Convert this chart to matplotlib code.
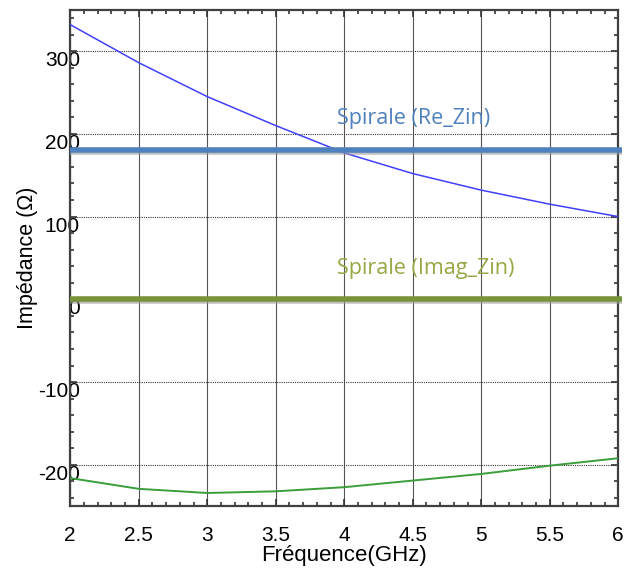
import matplotlib
matplotlib.use("Agg")
import matplotlib.pyplot as plt
import matplotlib.patheffects as pe
from matplotlib.ticker import MultipleLocator

# fréquence (GHz)
freq = [2.0, 2.5, 3.0, 3.5, 4.0, 4.5, 5.0, 5.5, 6.0]
# impédance mesurée (ohm)
re_zin = [332, 286, 245, 210, 177, 152, 132, 115, 100]
imag_zin = [-216, -229, -234, -232, -227, -219, -211, -201, -192]
# niveaux des marqueurs "Spirale"
spirale_re = 180
spirale_imag = 0

plt.rcParams['font.family'] = ['Liberation Sans', 'DejaVu Sans']
plt.rcParams['axes.unicode_minus'] = False

fig = plt.figure(figsize=(6.27, 5.72), dpi=100)
ax = fig.add_axes([0.112, 0.115, 0.874, 0.868])

ax.plot(freq, re_zin, color='#4040ff', lw=1.1, zorder=3)
ax.plot(freq, imag_zin, color='#3a9e3a', lw=1.4, zorder=3)

ombre = [pe.SimpleLineShadow(offset=(0, -1.5), shadow_color='#999999', alpha=0.6), pe.Normal()]
ax.plot([freq[0], freq[-1] + 0.03], [spirale_re, spirale_re], color='#4f81bd', lw=4,
        solid_capstyle='butt', path_effects=ombre, clip_on=False, zorder=4)
ax.plot([freq[0], freq[-1] + 0.03], [spirale_imag, spirale_imag], color='#77933c', lw=4,
        solid_capstyle='butt', path_effects=ombre, clip_on=False, zorder=4)

ax.text(3.95, 219, "Spirale (Re_Zin)", color='#4f81bd', fontsize=15.5,
        family=['Open Sans', 'DejaVu Sans'], va='center', ha='left', zorder=5)
ax.text(3.95, 37, "Spirale (Imag_Zin)", color='#94a843', fontsize=15.5,
        family=['Open Sans', 'DejaVu Sans'], va='center', ha='left', zorder=5)

ax.set_xlim(2, 6)
ax.set_ylim(-250, 350)
ax.xaxis.set_minor_locator(MultipleLocator(0.1))
ax.yaxis.set_major_locator(MultipleLocator(100))
ax.yaxis.set_minor_locator(MultipleLocator(20))
ax.set_xticks([2, 2.5, 3, 3.5, 4, 4.5, 5, 5.5, 6])
ax.set_xticklabels(['2', '2.5', '3', '3.5', '4', '4.5', '5', '5.5', '6'])

ax.xaxis.grid(True, which='major', color='#555555', lw=0.8, ls='-')
ax.yaxis.grid(True, which='major', color='#333333', lw=0.8, ls=(0, (1, 1)))
ax.set_axisbelow(True)

ax.tick_params(which='both', direction='in', top=True, right=True, color='#333333')
ax.tick_params(which='major', length=5, width=1.2, labelsize=15)
ax.tick_params(which='minor', length=3, width=1.2)
ax.tick_params(axis='y', pad=-7)
ax.tick_params(axis='x', pad=14)
for tick in ax.yaxis.get_major_ticks():
    tick.label1.set_va('top')
    tick.label1.set_zorder(6)
for s in ax.spines.values():
    s.set_color('#404040')
    s.set_linewidth(1.6)

ax.set_xlabel("Fréquence(GHz)", fontsize=16, labelpad=0)
ax.set_ylabel("Impédance (Ω)", fontsize=15.5, labelpad=0)

fig.savefig("out.png", dpi=100)
